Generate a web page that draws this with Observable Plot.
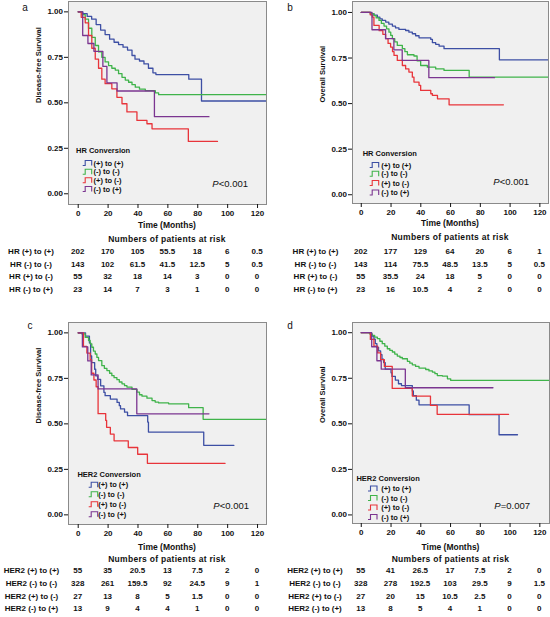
<!DOCTYPE html>
<html><head><meta charset="utf-8">
<script src="https://cdn.jsdelivr.net/npm/d3@7"></script>
<script src="https://cdn.jsdelivr.net/npm/@observablehq/plot@0.6"></script>
<style>
body{margin:0;background:#fff;}
#fig{position:relative;width:550px;height:617px;background:#fff;font-family:"Liberation Sans",Arial,sans-serif;}
#fig svg{position:absolute;overflow:visible;}
</style></head><body><div id="fig"></div>
<script>
// ---------- data ----------
const monthTicks = [0, 20, 40, 60, 80, 100, 120];
const survTicks = [0, 0.25, 0.5, 0.75, 1];
const groupNames = ["(+) to (+)", "(-) to (-)", "(+) to (-)", "(-) to (+)"];
const groupColors = ["#3d4fa4", "#3fb34a", "#e8343a", "#7b3590"];

// Panel a: Disease-free survival by HR conversion  [month, survival]
const aPP = [[0,1],[3,0.99],[6,0.975],[9,0.96],[12,0.93],[15,0.9],[18,0.875],[21,0.85],[24,0.833],[27,0.82],[30,0.806],[33,0.79],[36,0.76],[38,0.74],[41,0.73],[44,0.714],[47,0.69],[50,0.665],[52,0.655],[74,0.63],[82.5,0.51],[125.5,0.51]];
const aMM = [[0,1],[2.5,0.985],[4.7,0.96],[6.9,0.91],[9.1,0.86],[11.4,0.815],[13.6,0.78],[15.8,0.75],[18,0.725],[20.3,0.705],[22.5,0.69],[24.8,0.68],[27,0.66],[29.3,0.64],[31.5,0.625],[33.7,0.613],[36,0.6],[38.2,0.586],[41,0.575],[44.9,0.567],[51.6,0.555],[53.8,0.545],[125.5,0.545]];
const aPM = [[0,1],[2,0.97],[4.7,0.94],[6.9,0.87],[9.1,0.8],[11.4,0.74],[13.6,0.69],[15.8,0.63],[18,0.605],[22.5,0.577],[25.9,0.53],[29.3,0.495],[32.6,0.45],[39.3,0.403],[46,0.385],[49.4,0.357],[73.7,0.288],[93.2,0.288]];
const aMP = [[0,1],[3,0.87],[6.5,0.826],[10.5,0.783],[16.5,0.7],[19.2,0.61],[26,0.565],[51,0.424],[87.5,0.424]];

// Panel b: Overall survival by HR conversion
const bPP = [[0,1],[6.3,0.993],[8.5,0.985],[10.8,0.974],[12.5,0.965],[14.1,0.956],[16.4,0.947],[18.5,0.936],[20.9,0.925],[23,0.915],[25.3,0.907],[29.8,0.901],[32,0.892],[34.3,0.883],[36.5,0.872],[38.8,0.861],[46.7,0.852],[47.8,0.834],[50,0.825],[52.3,0.815],[55.6,0.801],[92.8,0.74],[125.5,0.74]];
const bMM = [[0,1],[6,0.993],[8.5,0.983],[10,0.97],[11.9,0.956],[13.5,0.94],[15.3,0.925],[17,0.91],[18.6,0.892],[19.8,0.874],[20.9,0.856],[22.5,0.838],[24.2,0.819],[27.6,0.801],[29.3,0.785],[31,0.768],[35.4,0.761],[37.5,0.735],[39.9,0.709],[44.4,0.7],[50,0.69],[55.6,0.682],[72.5,0.645],[125.5,0.645]];
const bPM = [[0,1],[6,0.987],[7.4,0.974],[8.5,0.929],[12,0.9],[14.5,0.88],[16.4,0.856],[18,0.83],[19.7,0.81],[21,0.785],[22,0.764],[24.2,0.737],[27.6,0.709],[29.8,0.69],[32,0.673],[34.3,0.645],[35.4,0.618],[38.8,0.6],[39.9,0.572],[46.7,0.554],[47.8,0.545],[51.2,0.526],[59,0.493],[95.5,0.493]];
const bMP = [[0,1],[7.2,0.905],[16.3,0.856],[21.9,0.795],[27.5,0.737],[45.4,0.642],[89.5,0.642]];

// Panel c: Disease-free survival by HER2 conversion
const cPP = [[0,1],[4.9,0.982],[7.5,0.945],[8.3,0.873],[9,0.836],[11,0.8],[11.7,0.764],[13,0.745],[15,0.709],[17.2,0.673],[18,0.655],[21.5,0.636],[26,0.618],[27.5,0.6],[28.3,0.582],[31,0.564],[33,0.545],[46.5,0.51],[47,0.455],[84,0.382],[104.2,0.382]];
const cMM = [[0,1],[2.5,0.994],[4.7,0.975],[6.9,0.958],[8,0.94],[9.1,0.921],[10.2,0.9],[11.4,0.884],[12.5,0.865],[13.6,0.848],[15.8,0.82],[17.5,0.805],[19.2,0.793],[21,0.778],[22.5,0.765],[24,0.754],[25.9,0.743],[27.5,0.73],[29.3,0.72],[31,0.71],[32.6,0.702],[36,0.689],[39.3,0.674],[41,0.66],[42.7,0.652],[46,0.641],[49.4,0.628],[51.5,0.62],[53.8,0.615],[60.5,0.61],[73.9,0.589],[83.6,0.525],[125.5,0.525]];
const cPM = [[0,1],[3.5,0.926],[5.8,0.889],[8,0.852],[9,0.778],[10.5,0.741],[12,0.704],[13.3,0.556],[18.4,0.519],[19,0.481],[21.5,0.444],[24,0.407],[33.5,0.37],[39.8,0.333],[46.3,0.283],[98.3,0.283]];
const cMP = [[0,1],[2.8,0.923],[6.4,0.846],[8.7,0.769],[13.3,0.692],[39.2,0.555],[87.5,0.555]];

// Panel d: Overall survival by HER2 conversion
const dPP = [[0,1],[6.5,0.982],[8.5,0.964],[9.4,0.94],[10.5,0.92],[11.6,0.9],[13,0.88],[13.9,0.855],[15,0.836],[16.1,0.8],[20,0.78],[20.6,0.76],[22.9,0.74],[25,0.72],[27,0.71],[34.3,0.68],[35,0.655],[37,0.63],[38.8,0.604],[72.5,0.55],[92.6,0.44],[105,0.44]];
const dMM = [[0,1],[5.5,0.994],[7.4,0.985],[9,0.976],[10.8,0.967],[12.5,0.953],[14.1,0.94],[15.8,0.926],[17.5,0.912],[19.2,0.903],[20.9,0.894],[22.5,0.883],[24.2,0.872],[26,0.864],[27.6,0.857],[31,0.843],[32.6,0.833],[34.3,0.824],[36.5,0.815],[38.8,0.806],[43.3,0.798],[45.5,0.79],[47.8,0.784],[49.5,0.775],[51.1,0.765],[54.5,0.762],[57.9,0.747],[60.1,0.738],[126,0.738]];
const dPM = [[0,1],[6.1,0.963],[8.5,0.926],[11,0.889],[13,0.852],[15.5,0.815],[20.8,0.694],[34.3,0.652],[46.5,0.601],[51,0.552],[99,0.552]];
const dMP = [[0,1],[7,0.923],[10.5,0.846],[13.4,0.8],[29.6,0.698],[88.5,0.698]];

// Numbers of patients at risk (columns = monthTicks)
const riskHR_DFS = [[202,170,105,55.5,18,6,0.5],[143,102,61.5,41.5,12.5,5,0.5],[55,32,18,14,3,0,0],[23,14,7,3,1,0,0]];
const riskHR_OS = [[202,177,129,64,20,6,1],[143,114,75.5,48.5,13.5,5,0.5],[55,35.5,24,18,5,0,0],[23,16,10.5,4,2,0,0]];
const riskHER2_DFS = [[55,35,20.5,13,7.5,2,0],[328,261,159.5,92,24.5,9,1],[27,13,8,5,1.5,0,0],[13,9,4,4,1,0,0]];
const riskHER2_OS = [[55,41,26.5,17,7.5,2,0],[328,278,192.5,103,29.5,9,1.5],[27,20,15,10.5,2.5,0,0],[13,8,5,4,1,0,0]];

// ---------- drawing ----------
const FONT = '"Liberation Sans", Arial, sans-serif';
const fig = document.getElementById("fig");

function panel(o) {
  const chart = Plot.plot({
    width: o.w, height: o.h,
    marginTop: o.mt, marginBottom: o.mb, marginLeft: o.ml, marginRight: o.mr,
    style: {fontFamily: FONT, fontSize: "8px", fontWeight: "bold", color: "#111", background: "transparent", overflow: "visible"},
    x: {domain: o.xdom},
    y: {domain: o.ydom},
    marks: [
      Plot.frame({fill: "#f0f0f0"}),
      ...o.curves.map((c, i) => Plot.line(c, {x: d => d[0], y: d => d[1], curve: "step-after", stroke: groupColors[o.order[i]], strokeWidth: 1.3})),
      Plot.frame({stroke: "#8a8a8a"}),
      Plot.axisX({ticks: monthTicks, tickSize: 4, tickPadding: 2, label: null, tickFormat: d => String(d), fontWeight: "bold", fontSize: 8}),
      Plot.axisY({ticks: survTicks, tickSize: 4, tickPadding: 1.5, label: null, tickFormat: d3.format(".2f"), fontWeight: "bold", fontSize: 8}),
      Plot.text([o.yLabel], {text: d => d, frameAnchor: "left", rotate: -90, dx: -30, fontSize: 7.5, fontWeight: "bold"})
    ]
  });
  chart.style.left = o.left + "px";
  chart.style.top = o.top + "px";
  fig.appendChild(chart);

  const svg = d3.select(chart);
  const sx = chart.scale("x");
  const fx0 = o.ml, fy0 = o.mt, fx1 = o.w - o.mr;
  const g = svg.append("g").attr("font-family", FONT).attr("fill", "#111").attr("text-anchor", "start");

  // panel letter
  g.append("text").attr("x", o.letter[0]).attr("y", o.letter[1]).attr("dominant-baseline", "central")
    .attr("text-anchor", "middle").attr("font-size", 10).attr("font-weight", "normal").text(o.letterText);

  // legend inside the plot
  const lg = g.append("g").attr("transform", `translate(${fx0},${fy0})`);
  lg.append("text").attr("x", o.leg.titleX).attr("y", o.leg.titleY).attr("dominant-baseline", "central")
    .attr("text-anchor", "start").attr("font-size", 7.5).attr("font-weight", "bold").text(o.legendTitle);
  groupNames.forEach((name, i) => {
    const y = o.leg.ys[i];
    const gx = o.leg.glyphX;
    lg.append("path").attr("d", `M${gx},${y + 2.5}h2.5v-5h6.5v5`).attr("fill", "none")
      .attr("stroke", groupColors[i]).attr("stroke-width", 1.1);
    lg.append("text").attr("x", o.leg.textX).attr("y", y).attr("dominant-baseline", "central")
      .attr("text-anchor", "start").attr("font-size", 7.5).attr("font-weight", "bold").text(name);
  });

  // p-value
  const pt = g.append("text").attr("x", o.p[0]).attr("y", o.p[1]).attr("text-anchor", "end")
    .attr("dominant-baseline", "central").attr("font-size", 9.5).attr("font-weight", "normal");
  pt.append("tspan").attr("font-style", "italic").text("P");
  pt.append("tspan").text(o.pText);

  // axis title and risk table
  const cx = (fx0 + fx1) / 2;
  g.append("text").attr("x", cx).attr("y", o.timeY).attr("text-anchor", "middle").attr("dominant-baseline", "central")
    .attr("font-size", 8.5).attr("font-weight", "bold").text("Time (Months)");
  g.append("text").attr("x", cx).attr("y", o.numY).attr("text-anchor", "middle").attr("dominant-baseline", "central")
    .attr("font-size", 8.5).attr("font-weight", "bold").attr("letter-spacing", 0.3).text("Numbers of patients at risk");
  o.risk.forEach((row, r) => {
    const y = o.rowYs[r];
    g.append("text").attr("x", o.rowLabelX).attr("y", y).attr("text-anchor", "middle").attr("dominant-baseline", "central")
      .attr("font-size", 8).attr("font-weight", "bold").text(o.prefix + " " + groupNames[r]);
    row.forEach((v, c) => {
      g.append("text").attr("x", sx.apply(monthTicks[c])).attr("y", y).attr("text-anchor", "middle")
        .attr("dominant-baseline", "central").attr("font-size", 8).attr("font-weight", "bold").text(String(v));
    });
  });
}

const rowsTop = [251.7, 264.3, 276.7, 289];
const rowsBot = [270.7, 283.3, 296, 308.3];

panel({left: 0, top: 0, w: 275, h: 300, ml: 68, mr: 9, mt: 1, mb: 96,
  xdom: [-6.5, 126], ydom: [-0.059, 1.057],
  curves: [aPP, aMM, aPM, aMP], order: [0, 1, 2, 3],
  yLabel: "Disease-free Survival", letterText: "a", letter: [25, 7],
  legendTitle: "HR Conversion", leg: {titleX: 8, titleY: 149.7, glyphX: 14.7, textX: 25.5, ys: [162, 170.7, 179.3, 188]},
  p: [248, 182.7], pText: "<0.001",
  timeY: 225, numY: 239, rowYs: rowsTop, rowLabelX: 31, risk: riskHR_DFS, prefix: "HR"});

panel({left: 275, top: 0, w: 275, h: 300, ml: 77, mr: 2, mt: 1, mb: 97,
  xdom: [-5.9, 125.8], ydom: [-0.048, 1.060],
  curves: [bPP, bMM, bPM, bMP], order: [0, 1, 2, 3],
  yLabel: "Overall Survival", letterText: "b", letter: [15, 7],
  legendTitle: "HR Conversion", leg: {titleX: 10.7, titleY: 152, glyphX: 17.7, textX: 29.2, ys: [164, 172.7, 182, 191.5]},
  p: [254, 181], pText: "<0.001",
  timeY: 223, numY: 237, rowYs: rowsTop, rowLabelX: 40.5, risk: riskHR_OS, prefix: "HR"});

panel({left: 0, top: 300, w: 275, h: 317, ml: 68, mr: 9, mt: 22, mb: 93,
  xdom: [-6.5, 126], ydom: [-0.053, 1.057],
  curves: [cPP, cMM, cPM, cMP], order: [0, 1, 2, 3],
  yLabel: "Disease-free Survival", letterText: "c", letter: [30, 25],
  legendTitle: "HER2 Conversion", leg: {titleX: 9.4, titleY: 152.3, glyphX: 20.7, textX: 30.2, ys: [162.8, 172.3, 182.3, 192.3]},
  p: [249, 205], pText: "<0.001",
  timeY: 247.3, numY: 259, rowYs: rowsBot, rowLabelX: 31.5, risk: riskHER2_DFS, prefix: "HER2"});

panel({left: 275, top: 300, w: 275, h: 317, ml: 77, mr: 1, mt: 22, mb: 94,
  xdom: [-5.9, 126.5], ydom: [-0.047, 1.056],
  curves: [dPP, dMM, dPM, dMP], order: [0, 1, 2, 3],
  yLabel: "Overall Survival", letterText: "d", letter: [15, 25],
  legendTitle: "HER2 Conversion", leg: {titleX: 4.4, titleY: 156, glyphX: 16, textX: 29.2, ys: [166.5, 176, 185.5, 195]},
  p: [255, 205], pText: "=0.007",
  timeY: 246.7, numY: 259, rowYs: rowsBot, rowLabelX: 40, risk: riskHER2_OS, prefix: "HER2"});
</script></body></html>
